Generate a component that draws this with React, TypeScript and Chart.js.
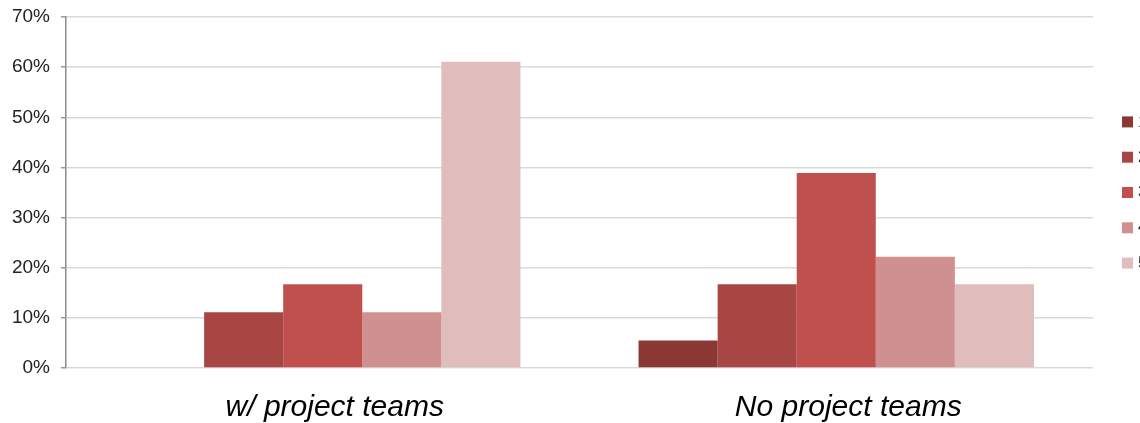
import React, { useEffect, useRef } from "react";
import { Chart, registerables } from "chart.js";

Chart.register(...registerables);

const categories = ["w/ project teams", "No project teams"];
const seriesLabels = ["1", "2", "3", "4", "5"];
const series1 = [0, 5.5];
const series2 = [11.1, 16.7];
const series3 = [16.7, 38.9];
const series4 = [11.1, 22.2];
const series5 = [61.1, 16.7];
const seriesColors = ["#8B3835", "#A84644", "#C0504D", "#D09090", "#E0BCBC"];
const yTicks = [0, 10, 20, 30, 40, 50, 60, 70];

const legendPlugin = {
  id: "sideLegend",
  afterDraw(chart: any) {
    const ctx = chart.ctx;
    const area = chart.chartArea;
    const cy = (area.top + area.bottom) / 2;
    const gap = 35.3;
    const n = chart.data.datasets.length;
    ctx.save();
    chart.data.datasets.forEach((ds: any, i: number) => {
      const y = cy + (i - (n - 1) / 2) * gap;
      ctx.fillStyle = ds.backgroundColor;
      ctx.fillRect(1122, y - 5.5, 11, 11);
      ctx.fillStyle = "#222";
      ctx.font = "17px 'Liberation Sans', Arial, sans-serif";
      ctx.textBaseline = "middle";
      ctx.textAlign = "left";
      ctx.fillText(ds.label, 1138, y);
    });
    ctx.restore();
  },
};

export default function App() {
  const ref = useRef<HTMLCanvasElement>(null);
  useEffect(() => {
    const all = [series1, series2, series3, series4, series5];
    const chart = new Chart(ref.current!, {
      type: "bar",
      data: {
        labels: categories,
        datasets: all.map((d, i) => ({
          label: seriesLabels[i],
          data: d,
          backgroundColor: seriesColors[i],
          borderWidth: 0,
          categoryPercentage: 0.77,
          barPercentage: 1.0,
        })),
      },
      options: {
        responsive: false,
        animation: false,
        layout: { padding: { top: 17, right: 47, bottom: 0, left: 0 } },
        plugins: { legend: { display: false }, tooltip: { enabled: false } },
        scales: {
          x: {
            afterFit: (s: any) => { s.height = 55; },
            grid: { display: false, drawTicks: false },
            border: { display: false },
            ticks: {
              padding: 22,
              labelOffset: 12,
              color: "#000",
              font: { family: "'Liberation Sans', Arial, sans-serif", size: 30, style: "italic" },
            },
          },
          y: {
            min: 0,
            max: 70,
            afterFit: (s: any) => { s.width = 66; s.paddingTop = 0; s.paddingBottom = 0; },
            afterBuildTicks: (s: any) => { s.ticks = yTicks.map((v) => ({ value: v })); },
            grid: { color: "#d9d9d9", lineWidth: 1.5, tickColor: "#999", tickLength: 5 },
            border: { display: true, color: "#8c8c8c", width: 1.5 },
            ticks: {
              padding: 11,
              color: "#222",
              font: { family: "'Liberation Sans', Arial, sans-serif", size: 19 },
              callback: (v: any) => v + "%",
            },
          },
        },
      },
      plugins: [legendPlugin],
    });
    return () => chart.destroy();
  }, []);
  return (
    <div style={{ position: "fixed", left: 0, top: 0, width: 1140, height: 423, background: "#fff" }}>
      <canvas ref={ref} width={1140} height={423} />
    </div>
  );
}
